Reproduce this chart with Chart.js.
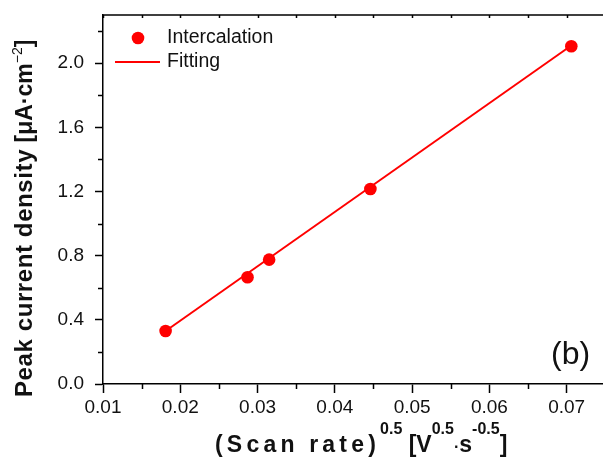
<!DOCTYPE html>
<html>
<head>
<meta charset="utf-8">
<script src="https://cdn.jsdelivr.net/npm/chart.js@4/dist/chart.umd.min.js"></script>
<style>
  html, body { margin: 0; padding: 0; background: #fff; overflow: hidden; }
  #chart { display: block; }
</style>
</head>
<body>
<canvas id="chart" width="603" height="463"></canvas>
<script>
// values
const scanRateSqrt = [0.0181, 0.0287, 0.0315, 0.0446, 0.0706];
const peakCurrent = [0.33, 0.665, 0.775, 1.215, 2.105];
const fitX = [0.0181, 0.0706];
const fitY = [0.33, 2.11];

const xTicks = [0.01, 0.02, 0.03, 0.04, 0.05, 0.06, 0.07];
const xMinorTicks = [0.015, 0.025, 0.035, 0.045, 0.055, 0.065];
const yTicks = [0.0, 0.4, 0.8, 1.2, 1.6, 2.0];
const yMinorTicks = [0.2, 0.6, 1.0, 1.4, 1.8, 2.2];

const seriesLabels = ['Intercalation', 'Fitting'];
const panelLabel = '(b)';

const FONT = '"Liberation Sans", Arial, Helvetica, sans-serif';
const RED = '#ff0000';
const AXIS = '#000000';

// draw a string char by char so we can add letter spacing
const drawSpaced = (ctx, text, x, y, spacing) => {
    for (const ch of text) {
        ctx.fillText(ch, x, y);
        x += ctx.measureText(ch).width + spacing;
    }
    return x;
};

// runs: {t, size, bold, sup, ls}
const drawRich = (ctx, runs, x, y) => {
    for (const r of runs) {
        ctx.font = `${r.bold ? 'bold ' : ''}${r.size}px ${FONT}`;
        x = drawSpaced(ctx, r.t, x, y - (r.sup || 0), r.ls || 0);
    }
};

const xTitleRuns = [
    { t: '(Scan rate)', size: 23, bold: true, ls: 4.2 },
    { t: '0.5', size: 16, bold: true, sup: 18 },
    { t: ' [V', size: 23, bold: true },
    { t: '0.5', size: 16, bold: true, sup: 18 },
    { t: '·', size: 16, bold: true },
    { t: 's', size: 23, bold: true },
    { t: '-0.5', size: 16, bold: true, sup: 18 },
    { t: ']', size: 23, bold: true }
];

const yTitleRuns = [
    { t: 'Peak current density', size: 24, bold: true, ls: 0.6 },
    { t: ' [μA·cm', size: 23, bold: true },
    { t: '−2', size: 14, bold: false, sup: 10 },
    { t: ']', size: 23, bold: true }
];

const decorPlugin = {
    id: 'decor',
    afterDraw(chart) {
        const ctx = chart.ctx;
        const xs = chart.scales.x;
        const ys = chart.scales.y;
        const area = chart.chartArea;
        ctx.save();
        ctx.strokeStyle = AXIS;
        ctx.lineWidth = 1.5;

        // top frame line with small inward ticks
        ctx.beginPath();
        ctx.moveTo(area.left, area.top);
        ctx.lineTo(chart.width, area.top);
        xTicks.concat(xMinorTicks).forEach(v => {
            const px = Math.round(xs.getPixelForValue(v)) + 0.5;
            ctx.moveTo(px, area.top);
            ctx.lineTo(px, area.top + 3);
        });
        // minor ticks on bottom and left
        xMinorTicks.forEach(v => {
            const px = Math.round(xs.getPixelForValue(v)) + 0.5;
            ctx.moveTo(px, area.bottom);
            ctx.lineTo(px, area.bottom + 5);
        });
        yMinorTicks.forEach(v => {
            const py = Math.round(ys.getPixelForValue(v)) + 0.5;
            ctx.moveTo(area.left, py);
            ctx.lineTo(area.left - 5, py);
        });
        ctx.stroke();

        // legend
        ctx.fillStyle = RED;
        ctx.beginPath();
        ctx.arc(138, 38, 6.3, 0, Math.PI * 2);
        ctx.fill();
        ctx.strokeStyle = RED;
        ctx.lineWidth = 2;
        ctx.beginPath();
        ctx.moveTo(115, 62);
        ctx.lineTo(160, 62);
        ctx.stroke();
        ctx.fillStyle = '#111';
        ctx.font = `19.5px ${FONT}`;
        ctx.textAlign = 'left';
        ctx.textBaseline = 'middle';
        ctx.fillText(seriesLabels[0], 167, 38);
        ctx.fillText(seriesLabels[1], 167, 62);

        // panel label
        ctx.font = `32px ${FONT}`;
        ctx.textBaseline = 'alphabetic';
        ctx.fillText(panelLabel, 551, 364);

        // axis titles
        ctx.fillStyle = '#111';
        drawRich(ctx, xTitleRuns, 215, 452);
        ctx.translate(32, 397);
        ctx.rotate(-Math.PI / 2);
        drawRich(ctx, yTitleRuns, 0, 0);
        ctx.restore();
    }
};

const tickFont = { family: FONT, size: 19 };

new Chart(document.getElementById('chart'), {
    type: 'scatter',
    data: {
        datasets: [
            {
                label: seriesLabels[1],
                data: fitX.map((x, i) => ({ x, y: fitY[i] })),
                showLine: true,
                borderColor: RED,
                borderWidth: 2,
                pointRadius: 0
            },
            {
                label: seriesLabels[0],
                data: scanRateSqrt.map((x, i) => ({ x, y: peakCurrent[i] })),
                showLine: false,
                backgroundColor: RED,
                borderColor: RED,
                pointRadius: 6.3,
                borderWidth: 0
            }
        ]
    },
    options: {
        responsive: false,
        animation: false,
        layout: { autoPadding: false, padding: { top: 15, right: 0, bottom: 0, left: 0 } },
        plugins: { legend: { display: false }, tooltip: { enabled: false } },
        scales: {
            x: {
                type: 'linear',
                min: 0.01,
                max: 0.0747,
                afterBuildTicks: s => { s.ticks = xTicks.map(v => ({ value: v })); },
                afterFit: s => { s.height = 79; s.paddingLeft = 0; s.paddingRight = 0; },
                border: { display: true, color: AXIS, width: 1.5 },
                grid: { drawOnChartArea: false, drawTicks: true, tickLength: 9, tickColor: AXIS, tickWidth: 1.5 },
                ticks: { font: tickFont, color: '#111', padding: 3, maxRotation: 0, callback: v => v.toFixed(2) }
            },
            y: {
                type: 'linear',
                min: 0,
                max: 2.3,
                afterBuildTicks: s => { s.ticks = yTicks.map(v => ({ value: v })); },
                afterFit: s => { s.width = 103; s.paddingTop = 0; s.paddingBottom = 0; },
                border: { display: true, color: AXIS, width: 1.5 },
                grid: { drawOnChartArea: false, drawTicks: true, tickLength: 8, tickColor: AXIS, tickWidth: 1.5 },
                ticks: { font: tickFont, color: '#111', padding: 11, callback: v => v.toFixed(1) }
            }
        }
    },
    plugins: [decorPlugin]
});
</script>
</body>
</html>
